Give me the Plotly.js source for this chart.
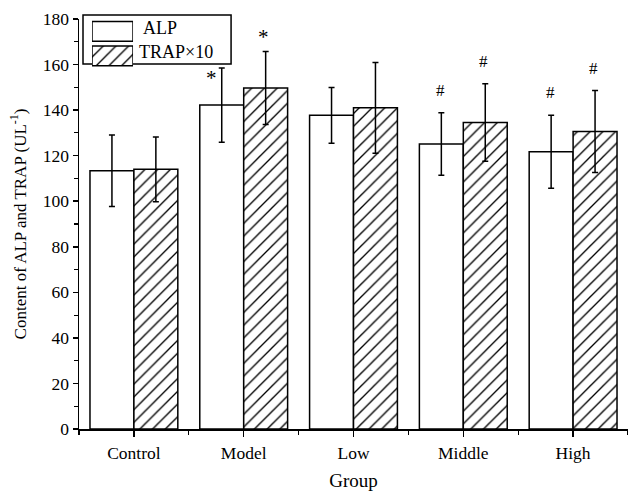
<!DOCTYPE html>
<html><head><meta charset="utf-8">
<script src="https://cdn.plot.ly/plotly-3.0.1.min.js"></script>
<style>body{margin:0;background:#fff}#chart{width:628px;height:491px}</style>
</head><body><div id="chart"></div>
<script>
const categories = ["Control", "Model", "Low", "Middle", "High"];
const alpValues = [113.4, 142.2, 137.7, 125.1, 121.7];
const alpErrors = [15.7, 16.3, 12.2, 13.7, 16.0];
const trapValues = [114.0, 149.7, 141.0, 134.6, 130.6];
const trapErrors = [14.2, 16.0, 19.9, 17.0, 18.0];
const alpMarks = ["", "*", "", "#", "#"];
const trapMarks = ["", "*", "", "#", "#"];
const yTicks = [0, 20, 40, 60, 80, 100, 120, 140, 160, 180];
const seriesNames = ["ALP", "TRAP×10"];

const xIdx = categories.map((c, i) => i);
const FONT = "Liberation Serif, Times New Roman, serif";
const HATCH = {fgcolor: "#000", bgcolor: "#fff", size: 9, solidity: 0.15};

const traces = [
  {
    type: "bar", name: seriesNames[0], x: xIdx, y: alpValues, showlegend: false,
    marker: {color: "#ffffff", line: {color: "#000", width: 1.5}},
    error_y: {type: "data", array: alpErrors, visible: true, color: "#000", thickness: 1.5, width: 3}
  },
  {
    type: "bar", name: seriesNames[1], x: xIdx, y: trapValues, showlegend: false,
    marker: {color: "#ffffff", line: {color: "#000", width: 1.5},
      pattern: Object.assign({shape: "/"}, HATCH)},
    error_y: {type: "data", array: trapErrors, visible: true, color: "#000", thickness: 1.5, width: 3}
  },
  // legend swatches (large boxes like the original legend)
  {
    type: "bar", orientation: "h", x: seriesNames.map(() => 1), y: seriesNames,
    xaxis: "x2", yaxis: "y2", showlegend: false, hoverinfo: "skip",
    marker: {color: "#ffffff", line: {color: "#000", width: 1.5},
      pattern: Object.assign({shape: ["", "/"]}, HATCH)}
  }
];

const markFont = m => ({family: FONT, size: m === "*" ? 21 : 17, color: "#000"});
const annotations = [];
alpMarks.forEach((m, i) => {
  if (m) annotations.push({x: i - 0.2, y: alpValues[i] + alpErrors[i], text: m, showarrow: false,
    yanchor: "bottom", yshift: m === "*" ? -24 : 11, xshift: m === "*" ? -10 : -1, font: markFont(m)});
});
trapMarks.forEach((m, i) => {
  if (m) annotations.push({x: i + 0.2, y: trapValues[i] + trapErrors[i], text: m, showarrow: false,
    yanchor: "bottom", yshift: m === "*" ? 1 : 11, xshift: -2, font: markFont(m)});
});
// legend labels
annotations.push({xref: "paper", yref: "paper", x: 0.1475, y: 0.978, text: seriesNames[0], showarrow: false,
  xanchor: "center", yanchor: "middle", font: {family: FONT, size: 18}});
annotations.push({xref: "paper", yref: "paper", x: 0.1056, y: 0.9195, text: seriesNames[1], showarrow: false,
  xanchor: "left", yanchor: "middle", font: {family: FONT, size: 18}});

const layout = {
  width: 628, height: 491,
  margin: {l: 79, r: 0, t: 19, b: 62},
  paper_bgcolor: "#fff", plot_bgcolor: "rgba(0,0,0,0)",
  font: {family: FONT, size: 18, color: "#000"},
  barmode: "group", bargap: 0.2, bargroupgap: 0,
  showlegend: false,
  xaxis: {
    range: [-0.5, 4.5], tickmode: "array", tickvals: xIdx, ticktext: categories,
    showline: true, linecolor: "#000", linewidth: 1.5, ticks: "outside", ticklen: 6, tickwidth: 1.5, tickcolor: "#000",
    minor: {tickmode: "array", tickvals: xIdx.map(i => i + 0.5).concat([-0.5]), ticks: "outside", ticklen: 4, tickcolor: "#000", tickwidth: 1.2},
    showgrid: false, zeroline: false, ticklabelstandoff: 1,
    tickfont: {family: FONT, size: 17.5},
    title: {text: "Group", font: {family: FONT, size: 19}, standoff: 17}
  },
  yaxis: {
    range: [0, 180], tickmode: "array", tickvals: yTicks,
    showline: true, linecolor: "#000", linewidth: 1.5, ticks: "outside", ticklen: 5, tickwidth: 1.5, tickcolor: "#000",
    minor: {dtick: 10, ticks: "outside", ticklen: 4, tickcolor: "#000", tickwidth: 1.2},
    showgrid: false, zeroline: false,
    tickfont: {family: FONT, size: 17.5},
    title: {text: "Content of ALP and TRAP (UL<sup>-1</sup>)", font: {family: FONT, size: 17}, standoff: 12}
  },
  xaxis2: {domain: [0.0237, 0.0984], range: [0, 1], visible: false, fixedrange: true, anchor: "y2"},
  yaxis2: {domain: [0.88, 1.0], visible: false, fixedrange: true, anchor: "x2", autorange: "reversed",
    type: "category", categoryorder: "array", categoryarray: seriesNames},
  shapes: [{type: "rect", xref: "paper", yref: "paper", x0: 0.0073, x1: 0.277, y0: 0.890, y1: 1.0098,
    line: {color: "#000", width: 1.5}, fillcolor: "#fff", layer: "below"}],
  annotations: annotations
};

Plotly.newPlot("chart", traces, layout, {displayModeBar: false, staticPlot: true});
</script>
</body></html>
